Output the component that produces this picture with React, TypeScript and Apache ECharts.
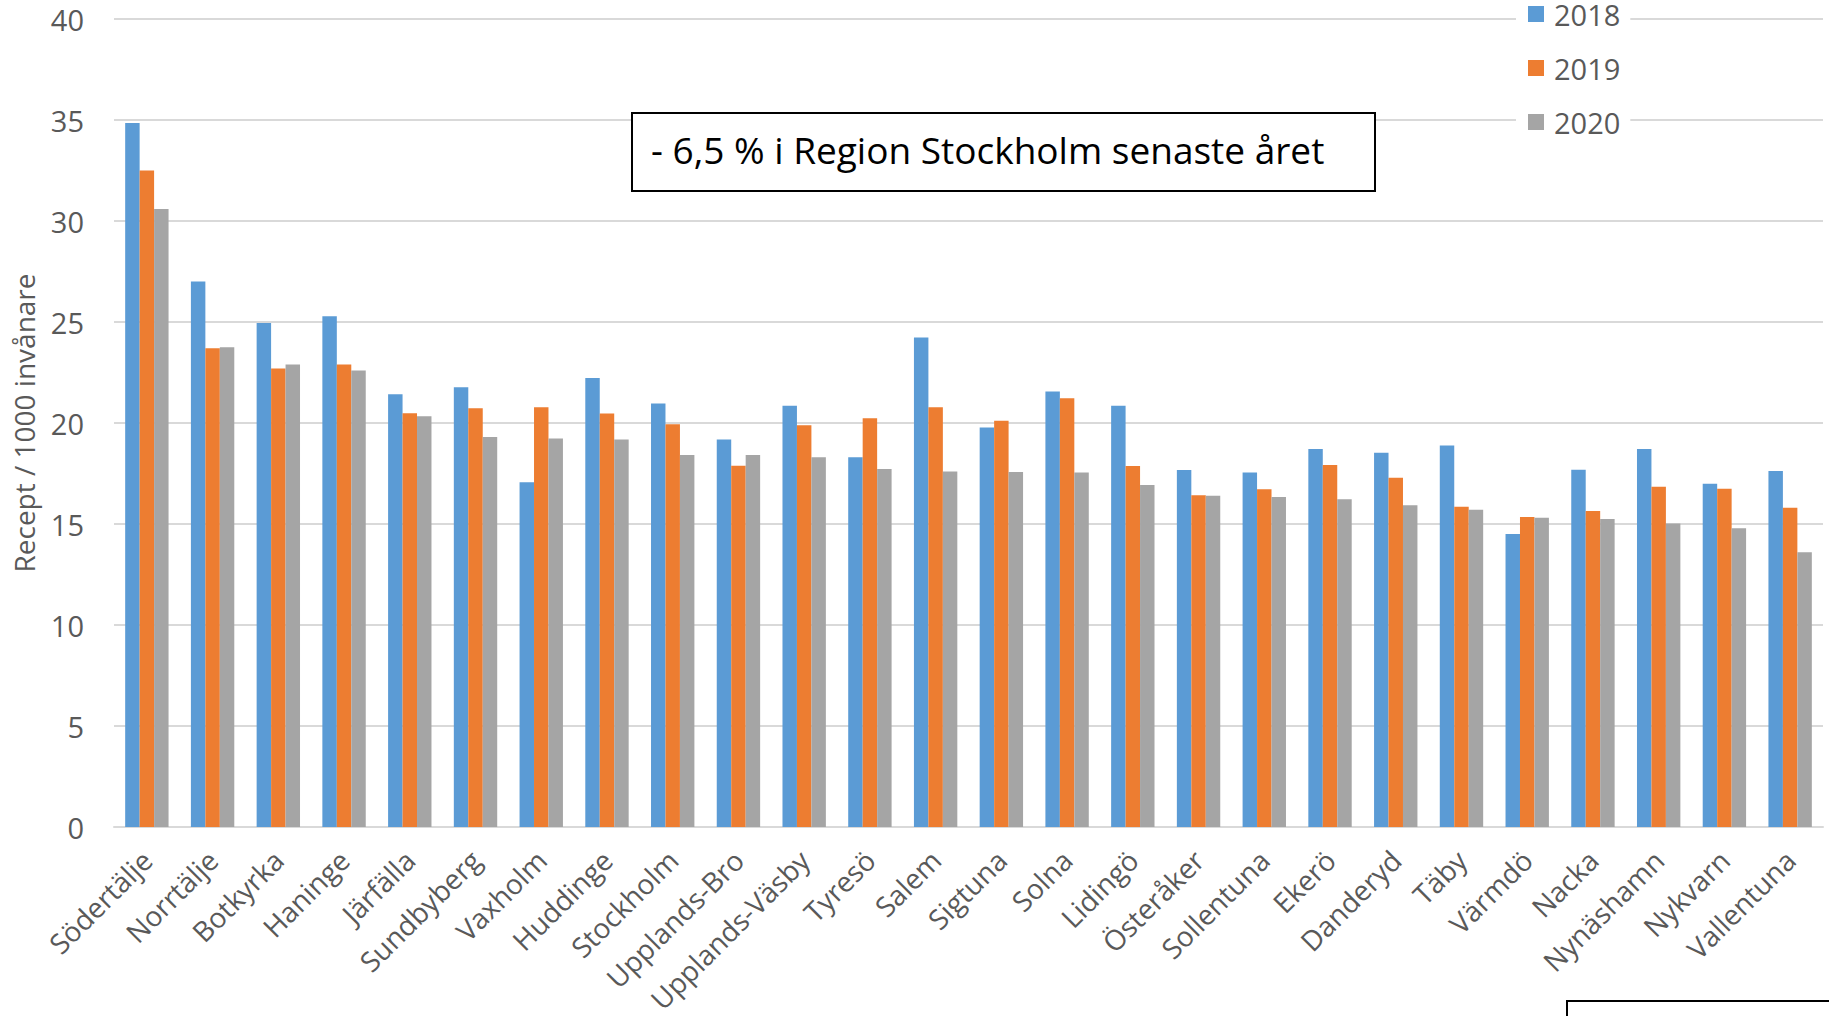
import React, { useEffect, useRef } from "react";
import * as echarts from "echarts";

const categories = [
  "Södertälje", "Norrtälje", "Botkyrka", "Haninge", "Järfälla", "Sundbyberg", "Vaxholm",
  "Huddinge", "Stockholm", "Upplands-Bro", "Upplands-Väsby", "Tyresö", "Salem", "Sigtuna",
  "Solna", "Lidingö", "Österåker", "Sollentuna", "Ekerö", "Danderyd", "Täby", "Värmdö",
  "Nacka", "Nynäshamn", "Nykvarn", "Vallentuna",
];
const values2018 = [34.85, 27.0, 24.95, 25.28, 21.42, 21.77, 17.07, 22.23, 20.96, 19.18, 20.86, 18.31, 24.23, 19.78, 21.56, 20.86, 17.67, 17.55, 18.71, 18.53, 18.88, 14.5, 17.69, 18.71, 16.99, 17.62];
const values2019 = [32.5, 23.7, 22.7, 22.9, 20.48, 20.73, 20.78, 20.47, 19.94, 17.88, 19.89, 20.24, 20.78, 20.11, 21.23, 17.87, 16.42, 16.72, 17.92, 17.29, 15.85, 15.35, 15.64, 16.84, 16.74, 15.81];
const values2020 = [30.6, 23.75, 22.9, 22.6, 20.34, 19.31, 19.23, 19.18, 18.42, 18.42, 18.3, 17.72, 17.6, 17.58, 17.55, 16.93, 16.4, 16.34, 16.22, 15.93, 15.71, 15.31, 15.25, 15.02, 14.79, 13.6];
const seriesNames = ["2018", "2019", "2020"];
const yTicks = { min: 0, max: 40, interval: 5 };
const yAxisTitle = "Recept / 1000 invånare";
const annotation = "- 6,5 % i Region Stockholm senaste året";

const COLORS = ["#5B9BD5", "#ED7D31", "#A5A5A5"];
const FONT = "'Open Sans', 'Noto Sans', sans-serif";

export default function App() {
  const ref = useRef<HTMLDivElement>(null);
  useEffect(() => {
    document.body.style.margin = "0";
    const chart = echarts.init(ref.current!, null, { renderer: "svg" });
    const seriesData = [values2018, values2019, values2020];
    chart.setOption({
      animation: false,
      backgroundColor: "#ffffff",
      textStyle: { fontFamily: FONT },
      color: COLORS,
      grid: { left: 114, right: 6, top: 19, bottom: 189, containLabel: false, outerBoundsMode: "none" },
      legend: {
        orient: "vertical",
        left: 1516,
        top: -1,
        padding: [0, 10, 4, 12],
        backgroundColor: "#ffffff",
        itemWidth: 16,
        itemHeight: 16,
        itemGap: 24,
        icon: "rect",
        textStyle: { fontSize: 29, color: "#595959", fontFamily: FONT, lineHeight: 30, padding: [0, 0, 0, 5] },
        data: seriesNames,
      },
      xAxis: {
        type: "category",
        data: categories,
        axisLine: { lineStyle: { color: "#D9D9D9", width: 2 } },
        axisTick: { show: false },
        axisLabel: {
          interval: 0,
          rotate: 45,
          fontSize: 28,
          color: "#595959",
          fontFamily: FONT,
          margin: 28,
        },
      },
      yAxis: {
        type: "value",
        min: yTicks.min,
        max: yTicks.max,
        interval: yTicks.interval,
        name: yAxisTitle,
        nameLocation: "middle",
        nameRotate: 90,
        nameGap: 76,
        nameTextStyle: { fontSize: 28, color: "#595959", fontFamily: FONT },
        axisLine: { show: false },
        axisTick: { show: false },
        splitLine: { lineStyle: { color: "#D9D9D9", width: 2 } },
        axisLabel: { fontSize: 29, color: "#595959", fontFamily: FONT, margin: 30 },
      },
      series: seriesNames.map((name, i) => ({
        name,
        type: "bar",
        data: seriesData[i],
        barGap: "0%",
        barCategoryGap: "34%",
        itemStyle: { color: COLORS[i] },
        z: 3,
      })),
      graphic: [
        {
          type: "rect",
          shape: { x: 632, y: 113, width: 743, height: 78 },
          style: { fill: "#ffffff", stroke: "#000000", lineWidth: 2 },
          z: 10,
        },
        {
          type: "text",
          x: 651,
          y: 149,
          style: {
            text: annotation,
            fontSize: 37,
            fill: "#000000",
            fontFamily: FONT,
            verticalAlign: "middle",
            align: "left",
          },
          z: 11,
        },
        {
          type: "rect",
          shape: { x: 1567, y: 1001, width: 400, height: 100 },
          style: { fill: "#ffffff", stroke: "#000000", lineWidth: 2 },
          z: 10,
        },
      ],
    });
    return () => chart.dispose();
  }, []);
  return <div ref={ref} style={{ position: "absolute", left: 0, top: 0, width: 1829, height: 1016 }} />;
}
